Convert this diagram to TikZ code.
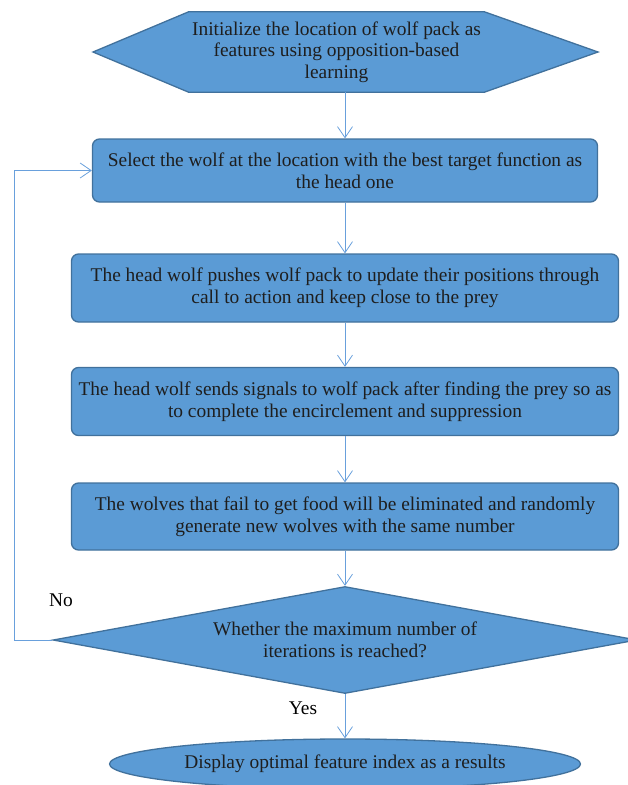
\documentclass[tikz,border=0pt]{standalone}
\usepackage{fontspec}
\setmainfont{Liberation Serif}
\usepackage{tikz}
\usetikzlibrary{arrows.meta,shapes,backgrounds}
\definecolor{node_blue}{RGB}{91,155,213}
\definecolor{edge_blue}{RGB}{65,113,156}
\definecolor{line_blue}{RGB}{105,160,220}
\definecolor{text_gray}{RGB}{30,30,30}

\begin{document}
\begin{tikzpicture}[x=1pt,y=1pt,>={Straight Barb[length=11pt,width=15pt]},font=\fontsize{19.4}{22}\selectfont]
    \tikzstyle{label}=[text=black]
    \tikzstyle{stepbox}=[draw=edge_blue, line width=1.3pt, fill=node_blue, text=text_gray, align=center]
    \tikzstyle{process}=[style=stepbox, rectangle, rounded corners=7pt]
    \tikzstyle{prep}=[text=text_gray, align=center, minimum width=293pt, minimum height=80pt, font=\fontsize{19.4}{21.5}\selectfont]
    \tikzstyle{decision}=[style=stepbox, diamond, aspect=5.46, minimum width=584pt, minimum height=107pt, inner sep=0pt]
    \tikzstyle{terminal}=[style=stepbox, ellipse, minimum width=471pt, minimum height=50pt]
    \tikzstyle{flow}=[->, draw=line_blue, line width=0.8pt]

    \useasboundingbox (0,0) rectangle (628,-785);

    \node[prep] (init) at (336.5,-52) {Initialize the location of wolf pack as\\features using opposition-based\\learning};
    \begin{scope}[on background layer]
      \draw[stepbox] (init.north west) -- (init.north east) -- (598,-52) -- (init.south east)
        -- (init.south west) -- (93,-52) -- cycle;
    \end{scope}
    \node[process, minimum width=505pt, minimum height=63pt] (head) at (345,-170.5) {Select the wolf at the location with the best target function as\\the head one};
    \node[process, minimum width=547pt, minimum height=68pt] (push) at (345,-288) {The head wolf pushes wolf pack to update their positions through\\call to action and keep close to the prey};
    \node[process, minimum width=547pt, minimum height=68pt] (signal) at (345,-401.5) {The head wolf sends signals to wolf pack after finding the prey so as\\to complete the encirclement and suppression};
    \node[process, minimum width=547pt, minimum height=67pt] (renew) at (345,-516.5) {The wolves that fail to get food will be eliminated and randomly\\generate new wolves with the same number};
    \node[decision] (check) at (345,-640) {Whether the maximum number of\\iterations is reached?};
    \node[terminal] (result) at (345,-764) {Display optimal feature index as a results};

    \node[label] (no) at (61,-600) {No};
    \node[label] (yes) at (303,-708) {Yes};

    \path
     (head.north |- init.south) edge[flow] (head.north)
     (head.south) edge[flow] (push.north)
     (push.south) edge[flow] (signal.north)
     (signal.south) edge[flow] (renew.north)
     (renew.south) edge[flow] (check.north)
     (check.south) edge[flow] (result.north);
    \draw[flow] (check.west) -- (14,-640) |- (head.west);
  \end{tikzpicture}
\end{document}
